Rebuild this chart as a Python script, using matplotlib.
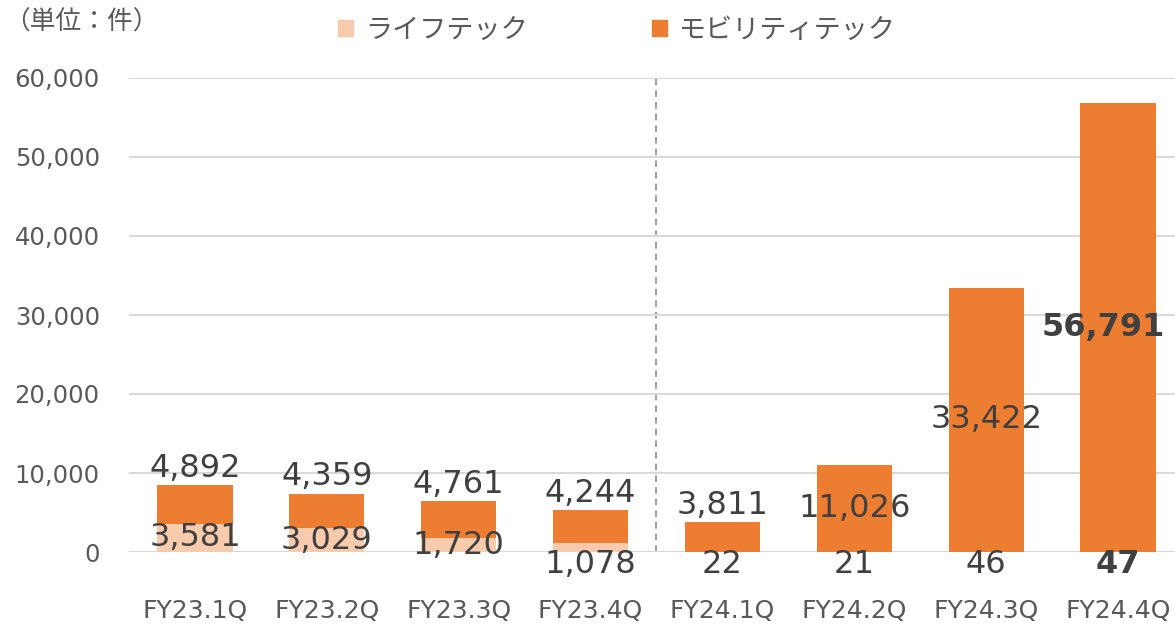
import matplotlib.pyplot as plt
from matplotlib.patches import Patch

plt.rcParams['font.family'] = ['DejaVu Sans', 'Noto Sans CJK JP']

quarters = ['FY23.1Q', 'FY23.2Q', 'FY23.3Q', 'FY23.4Q',
            'FY24.1Q', 'FY24.2Q', 'FY24.3Q', 'FY24.4Q']
life = [3581, 3029, 1720, 1078, 22, 21, 46, 47]
mobility = [4892, 4359, 4761, 4244, 3811, 11026, 33422, 56791]
yticks = [0, 10000, 20000, 30000, 40000, 50000, 60000]

c_life = '#F8CBAD'
c_mob = '#ED7D31'
c_text = '#404040'
c_tick = '#595959'
jp = ['Noto Sans CJK JP', 'DejaVu Sans']

fig = plt.figure(figsize=(11.75, 6.26), dpi=100)
ax = fig.add_axes([129 / 1175, 74 / 626, 1055 / 1175, 474 / 626])

x = range(len(quarters))
ax.bar(x, life, width=0.57, color=c_life, zorder=2)
ax.bar(x, mobility, width=0.57, bottom=life, color=c_mob, zorder=2)

ax.set_xlim(-0.5, 7.5)
ax.set_ylim(0, 60000)
ax.set_yticks(yticks)
ax.set_yticklabels([f'{v:,}' for v in yticks])
ax.set_xticks(list(x))
ax.set_xticklabels(quarters)
ax.tick_params(axis='y', length=0, pad=21, labelsize=17.5, labelcolor=c_tick)
ax.tick_params(axis='x', length=0, pad=34, labelsize=18, labelcolor=c_tick)
ax.grid(axis='y', color='#D9D9D9', linewidth=1.5, zorder=0)
for s in ax.spines.values():
    s.set_visible(False)

# divider between fiscal years
ax.axvline(3.5, color='#8C8C8C', linestyle=(0, (4, 3)), linewidth=1.2, zorder=1)

fs = 23
last = len(quarters) - 1
for i in x:
    bold = 'bold' if i == last else 'normal'
    # life tech labels
    if life[i] >= 1500:
        ax.text(i, life[i] / 2, f'{life[i]:,}', ha='center', va='center',
                fontsize=fs, color=c_text, fontweight=bold, zorder=3)
    else:
        ax.annotate(f'{life[i]:,}', (i, 0), xytext=(0, -9), textcoords='offset points',
                    ha='center', va='center', fontsize=fs, color=c_text,
                    fontweight=bold, zorder=3)
    # mobility tech labels
    top = life[i] + mobility[i]
    if mobility[i] < 10000:
        ax.annotate(f'{mobility[i]:,}', (i, top), xytext=(0, 12), textcoords='offset points',
                    ha='center', va='center', fontsize=fs, color=c_text,
                    fontweight=bold, zorder=3)
    else:
        # last label is nudged left so it stays inside the figure
        dx = -11 if i == last else 0
        ax.annotate(f'{mobility[i]:,}', (i, life[i] + mobility[i] / 2), xytext=(dx, 0),
                    textcoords='offset points', ha='center', va='center',
                    fontsize=fs, color=c_text, fontweight=bold, zorder=3)

fig.text(4 / 1175, 1 - 23 / 626, '（単位：件）', fontsize=18.5, color=c_tick,
         ha='left', va='center', family=jp)

handles = [Patch(color=c_life, label='ライフテック'),
           Patch(color=c_mob, label='モビリティテック')]
fig.legend(handles=handles, loc='center', bbox_to_anchor=(617 / 1175, 1 - 30 / 626),
           ncol=2, frameon=False, prop={'family': jp, 'size': 19.5}, labelcolor=c_tick,
           handlelength=0.55, handleheight=0.55, handletextpad=0.45, columnspacing=4.6)

fig.savefig('out.png', dpi=100)
